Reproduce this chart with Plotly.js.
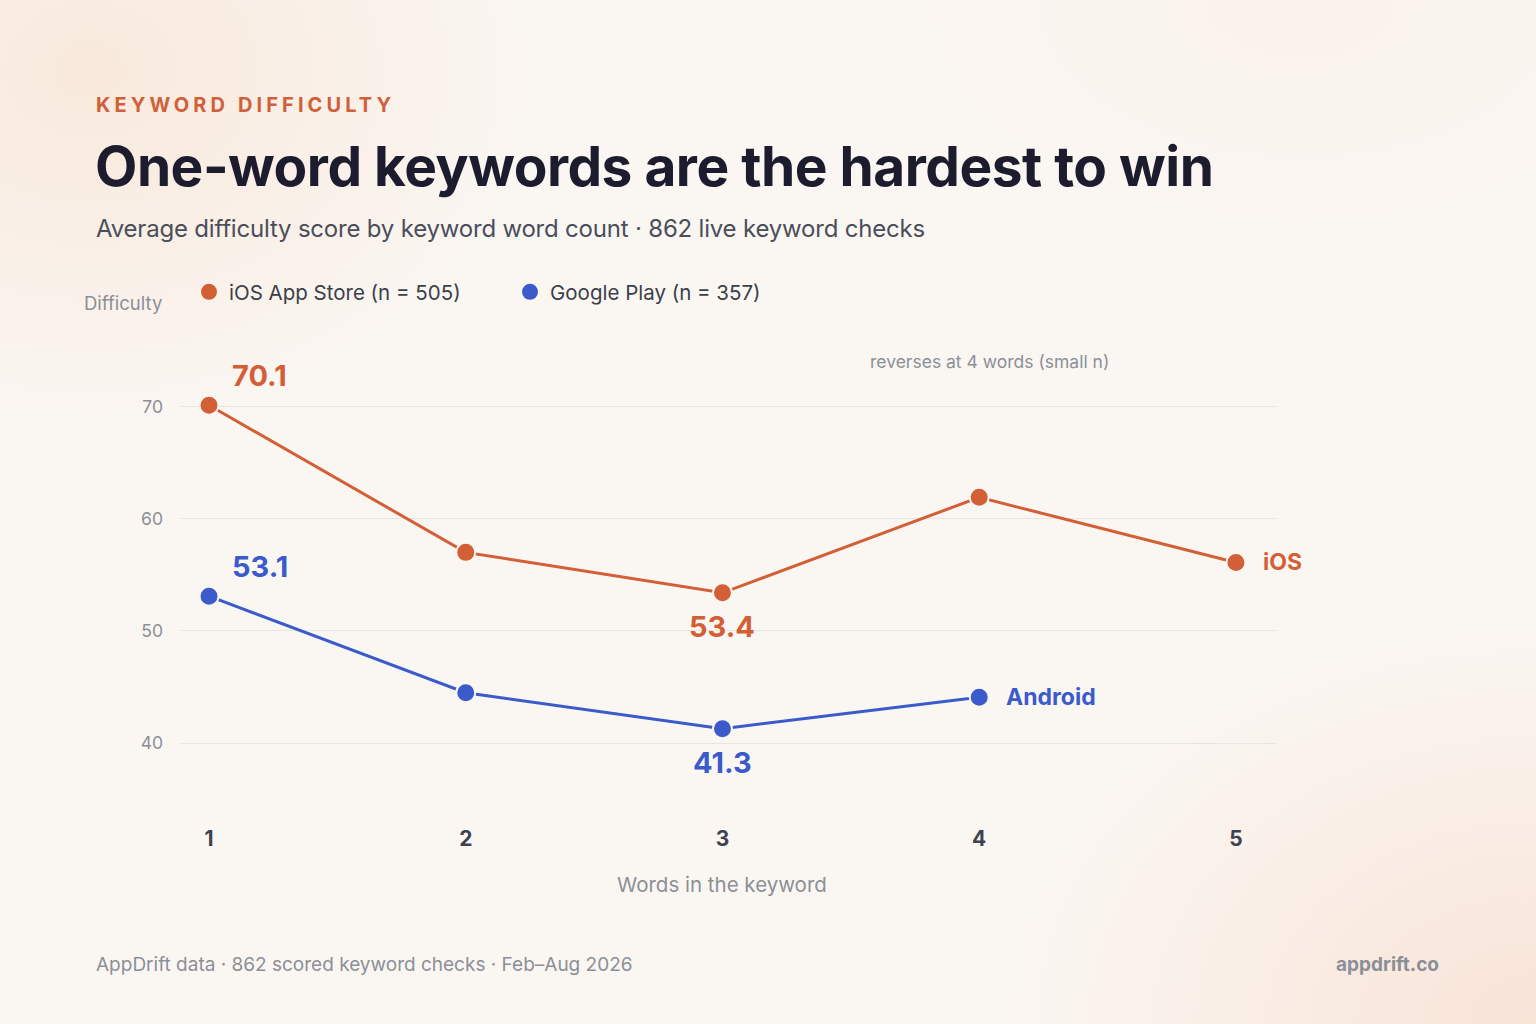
<!DOCTYPE html>
<html>
<head>
<meta charset="utf-8">
<script src="https://cdn.plot.ly/plotly-3.0.1.min.js"></script>
<style>
  html, body { margin: 0; padding: 0; }
  body {
    width: 1536px; height: 1024px; overflow: hidden; position: relative;
    font-family: Inter, "Noto Sans", sans-serif;
    background:
      radial-gradient(ellipse 480px 380px at 90px 70px, rgba(248,228,212,0.75), rgba(248,228,212,0) 100%),
      radial-gradient(ellipse 560px 420px at 1536px 1024px, rgba(248,224,210,0.85), rgba(248,224,210,0) 100%),
      radial-gradient(ellipse 500px 300px at 1300px 0px, rgba(250,238,228,0.5), rgba(250,238,228,0) 100%),
      #faf7f3;
  }
  #chart { position: absolute; left: 0; top: 0; width: 1536px; height: 1024px; }
  .txt { position: absolute; white-space: nowrap; }
  #kicker { left: 96px; top: 93px; font-size: 20px; font-weight: 700; letter-spacing: 4.1px; color: #d0603a; }
  #title { left: 95px; top: 133px; font-size: 55px; font-weight: 700; color: #1d1c2e; letter-spacing: -0.5px; }
  #subtitle { left: 96px; top: 214px; font-size: 24px; font-weight: 400; color: #4a4e5a; letter-spacing: -0.2px; }
  #source { left: 96px; top: 953px; font-size: 19px; color: #8c8f97; letter-spacing: 0px; }
  #brand { right: 97px; top: 953px; font-size: 19px; font-weight: 700; color: #8c8f97; }
</style>
</head>
<body>
<div id="chart"></div>
<div class="txt" id="kicker">KEYWORD DIFFICULTY</div>
<div class="txt" id="title">One-word keywords are the hardest to win</div>
<div class="txt" id="subtitle">Average difficulty score by keyword word count · 862 live keyword checks</div>
<div class="txt" id="source">AppDrift data · 862 scored keyword checks · Feb–Aug 2026</div>
<div class="txt" id="brand">appdrift.co</div>
<script>
// ---- data ----
const wordCounts = [1, 2, 3, 4, 5];
const iosValues = [70.1, 57.0, 53.4, 61.9, 56.1];
const androidWordCounts = [1, 2, 3, 4];
const androidValues = [53.1, 44.5, 41.3, 44.1];
const seriesNames = ["iOS App Store (n = 505)", "Google Play (n = 357)"];
const endLabels = ["iOS", "Android"];
const yTicks = [40, 50, 60, 70];
const xTickLabels = ["1", "2", "3", "4", "5"];

const ORANGE = "#d35f37";
const BLUE = "#3b5bcb";
const BG = "#faf7f3";
const FONT = "Inter, 'Noto Sans', sans-serif";

const traces = [
  {
    x: wordCounts, y: iosValues, mode: "lines+markers", showlegend: false,
    line: { color: ORANGE, width: 3 },
    marker: { color: ORANGE, size: 19, line: { color: BG, width: 2 } },
    hoverinfo: "skip"
  },
  {
    x: androidWordCounts, y: androidValues, mode: "lines+markers", showlegend: false,
    line: { color: BLUE, width: 3 },
    marker: { color: BLUE, size: 19, line: { color: BG, width: 2 } },
    hoverinfo: "skip"
  },
  { x: [null], y: [null], mode: "markers", name: seriesNames[0], marker: { color: ORANGE, size: 16 } },
  { x: [null], y: [null], mode: "markers", name: seriesNames[1], marker: { color: BLUE, size: 16 } }
];

const iMax = 0, iMin = 2;
const labelFont = (c) => ({ family: FONT, size: 29, color: c, weight: 700 });
const annotations = [
  { x: wordCounts[iMax], y: iosValues[iMax], text: iosValues[iMax].toFixed(1), xref: "x", yref: "y",
    showarrow: false, xanchor: "left", yanchor: "middle", xshift: 21, yshift: 30, font: labelFont(ORANGE) },
  { x: androidWordCounts[0], y: androidValues[0], text: androidValues[0].toFixed(1), xref: "x", yref: "y",
    showarrow: false, xanchor: "left", yanchor: "middle", xshift: 21, yshift: 30, font: labelFont(BLUE) },
  { x: wordCounts[iMin], y: iosValues[iMin], text: iosValues[iMin].toFixed(1), xref: "x", yref: "y",
    showarrow: false, xanchor: "center", yanchor: "middle", yshift: -34, font: labelFont(ORANGE) },
  { x: androidWordCounts[2], y: androidValues[2], text: androidValues[2].toFixed(1), xref: "x", yref: "y",
    showarrow: false, xanchor: "center", yanchor: "middle", yshift: -34, font: labelFont(BLUE) },
  { x: wordCounts[4], y: iosValues[4], text: endLabels[0], xref: "x", yref: "y",
    showarrow: false, xanchor: "left", yanchor: "middle", xshift: 25,
    font: { family: FONT, size: 23, color: ORANGE, weight: 700 } },
  { x: androidWordCounts[3], y: androidValues[3], text: endLabels[1], xref: "x", yref: "y",
    showarrow: false, xanchor: "left", yanchor: "middle", xshift: 25,
    font: { family: FONT, size: 23, color: BLUE, weight: 700 } },
  { x: 4, y: 74.0, text: "reverses at 4 words (small n)", xref: "x", yref: "y",
    showarrow: false, xanchor: "center", yanchor: "middle", xshift: 10,
    font: { family: FONT, size: 17.5, color: "#8c8f97" } },
  { x: 3, y: 0, text: "Words in the keyword", xref: "x", yref: "paper",
    showarrow: false, xanchor: "center", yanchor: "middle", yshift: -84,
    font: { family: FONT, size: 20.5, color: "#8c8f97" } },
  { x: 0, y: 0, text: "Difficulty", xref: "paper", yref: "paper",
    showarrow: false, xanchor: "right", yanchor: "middle",
    font: { family: FONT, size: 18.5, color: "#8c8f97" } }
];

const W = 1536, H = 1024;
const L = 180, R = 1277, T = 339, B = 800;
annotations[8].x = (164 - L) / (R - L);
annotations[8].y = (B - 303) / (B - T);

const layout = {
  width: W, height: H,
  margin: { l: L, r: W - R, t: T, b: H - B, pad: 0 },
  paper_bgcolor: "rgba(0,0,0,0)",
  plot_bgcolor: "rgba(0,0,0,0)",
  font: { family: FONT, color: "#8c8f97" },
  showlegend: true,
  legend: {
    orientation: "h", x: (189 - L) / (R - L), xanchor: "left",
    y: (B - 292) / (B - T), yanchor: "middle",
    font: { family: FONT, size: 20.5, color: "#3b3f4a" },
    bgcolor: "rgba(0,0,0,0)", borderwidth: 0,
    entrywidth: 276, entrywidthmode: "pixels", itemclick: false, itemdoubleclick: false
  },
  xaxis: {
    range: [0.887, 5.16], tickmode: "array", tickvals: wordCounts, ticktext: xTickLabels,
    showgrid: false, zeroline: false, showline: false, ticks: "",
    tickfont: { family: FONT, size: 21, color: "#3d4250", weight: 700 },
    ticklabelstandoff: 24, fixedrange: true
  },
  yaxis: {
    range: [34.95, 76.0], tickmode: "array", tickvals: yTicks,
    showgrid: true, gridcolor: "#e9e5e0", gridwidth: 1, zeroline: false, showline: false, ticks: "",
    tickfont: { family: FONT, size: 17.5, color: "#8c8f97" },
    ticklabelstandoff: 16, fixedrange: true
  },
  annotations: annotations
};

Plotly.newPlot("chart", traces, layout, { displayModeBar: false, staticPlot: true });
</script>
</body>
</html>
